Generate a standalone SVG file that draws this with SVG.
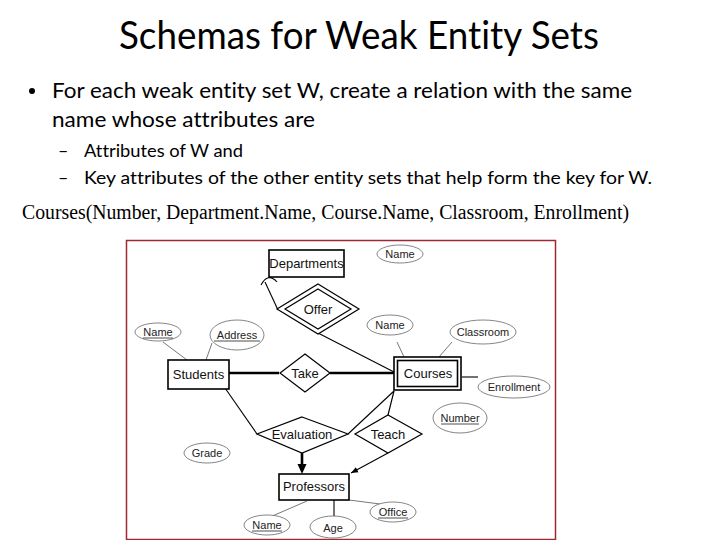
<svg xmlns="http://www.w3.org/2000/svg" width="720" height="540" viewBox="0 0 720 540">
<defs>
<style>
.title{font-family:Lato,"Open Sans",sans-serif;font-size:39px;fill:#000;font-variant-ligatures:none}
.body{font-family:Lato,"Open Sans",sans-serif;font-size:22px;fill:#000;font-variant-ligatures:none}
.sub{font-family:Lato,"Open Sans",sans-serif;font-size:18px;fill:#000;font-variant-ligatures:none}
.serif{font-family:"Liberation Serif",serif;font-size:20px;fill:#000}
.ent{fill:#fff;stroke:#000;stroke-width:1.6}
.rel{fill:#fff;stroke:#000;stroke-width:1.2}
.attr{fill:#fff;stroke:#666;stroke-width:0.8}
.lbl{font-family:"Liberation Sans",Arial,sans-serif;font-size:13px;fill:#111;text-anchor:middle}
.albl{font-family:"Liberation Sans",Arial,sans-serif;font-size:11px;fill:#222;text-anchor:middle}
.thin{stroke:#555;stroke-width:0.8;fill:none}
.med{stroke:#000;stroke-width:1.1;fill:none}
.thick{stroke:#000;stroke-width:2.6;fill:none}
.ul{stroke:#222;stroke-width:0.8}
</style>
<marker id="arr" viewBox="0 0 10 10" refX="10" refY="5" markerWidth="7" markerHeight="7" orient="auto" markerUnits="userSpaceOnUse">
<path d="M0,1 L10,5 L0,9 Z" fill="#000"/>
</marker>
</defs>
<rect width="720" height="540" fill="#fff"/>
<text class="title" x="119" y="49" textLength="480" lengthAdjust="spacingAndGlyphs">Schemas for Weak Entity Sets</text>
<circle cx="32" cy="91" r="3" fill="#000"/>
<text class="body" x="52" y="98" textLength="580" lengthAdjust="spacingAndGlyphs">For each weak entity set W, create a relation with the same</text>
<text class="body" x="52" y="127" textLength="263" lengthAdjust="spacingAndGlyphs">name whose attributes are</text>
<text class="sub" x="58" y="157">–</text>
<text class="sub" x="84" y="157" textLength="159" lengthAdjust="spacingAndGlyphs">Attributes of W and</text>
<text class="sub" x="58" y="184">–</text>
<text class="sub" x="84" y="184" textLength="568" lengthAdjust="spacingAndGlyphs">Key attributes of the other entity sets that help form the key for W.</text>
<text class="serif" x="22" y="219" textLength="607" lengthAdjust="spacingAndGlyphs">Courses(Number, Department.Name, Course.Name, Classroom, Enrollment)</text>
<rect x="126.5" y="240.5" width="429" height="299" fill="#fff" stroke="#a02834" stroke-width="1.5"/>
<g id="connectors">
<path class="med" d="M278,310 L265,282"/>
<path class="med" d="M261,285 Q268,272 277,282"/>
<path class="med" d="M318,333 L394,372"/>
<path class="thin" d="M397,342 L404,357"/>
<path class="thin" d="M452,342 L439,357"/>
<path class="med" d="M462,377 L478,377"/>
<path class="thin" d="M163,342 L187,360"/>
<path class="thin" d="M212,343 L206,360"/>
<path class="thick" d="M229,373 L279,373"/>
<path class="thick" d="M330,373 L394,373"/>
<path class="med" d="M225,388 L257,434"/>
<path class="med" d="M348,434 L394,391"/>
<path class="med" d="M394,391 L388,415"/>
<path class="thick" d="M302,453 L302,467"/>
<path d="M297.5,464 L302,474 L306.5,464 Z" fill="#000"/>
<path class="med" d="M388,453 L351,473" marker-end="url(#arr)"/>
<path class="thin" d="M307,501 L270,517"/>
<path class="med" d="M334,500 L334,517"/>
<path class="thin" d="M349,500 L380,504"/>
</g>
<g id="departments">
<rect class="ent" x="269" y="250" width="75" height="27"/>
<text class="lbl" x="306.5" y="268">Departments</text>
</g>
<g id="dept-name">
<ellipse class="attr" cx="400" cy="254" rx="23" ry="9"/>
<text class="albl" x="400" y="258">Name</text>
</g>
<g id="offer">
<polygon class="rel" points="318,284 359,309 318,334 277,309"/>
<polygon class="rel" points="318,289 351,309 318,329 285,309"/>
<text class="lbl" x="318" y="314">Offer</text>
</g>
<g id="courses">
<rect class="ent" x="394" y="357" width="67" height="33"/>
<rect class="ent" x="397.5" y="360.5" width="60" height="26" stroke-width="1.2"/>
<text class="lbl" x="428" y="378">Courses</text>
</g>
<g id="course-name">
<ellipse class="attr" cx="390" cy="325" rx="23" ry="10"/>
<text class="albl" x="390" y="329">Name</text>
</g>
<g id="classroom">
<ellipse class="attr" cx="483" cy="332" rx="33" ry="12"/>
<text class="albl" x="483" y="336">Classroom</text>
</g>
<g id="enrollment">
<ellipse class="attr" cx="514" cy="387" rx="36" ry="11"/>
<text class="albl" x="514" y="391">Enrollment</text>
</g>
<g id="number">
<ellipse class="attr" cx="460" cy="418" rx="27" ry="15"/>
<text class="albl" x="460" y="422">Number</text>
<line class="ul" x1="441" y1="424" x2="479" y2="424"/>
</g>
<g id="students">
<rect class="ent" x="168" y="360" width="61" height="29"/>
<text class="lbl" x="198.5" y="379">Students</text>
</g>
<g id="student-name">
<ellipse class="attr" cx="158" cy="332" rx="23" ry="9"/>
<text class="albl" x="158" y="336">Name</text>
<line class="ul" x1="143" y1="338" x2="173" y2="338"/>
</g>
<g id="address">
<ellipse class="attr" cx="237" cy="335" rx="27" ry="15"/>
<text class="albl" x="237" y="339">Address</text>
<line class="ul" x1="214" y1="341" x2="260" y2="341"/>
</g>
<g id="take">
<polygon class="rel" points="305,354 330,373 305,392 280,373"/>
<text class="lbl" x="305" y="378">Take</text>
</g>
<g id="evaluation">
<polygon class="rel" points="302,417 348,434 302,453 257,434"/>
<text class="lbl" x="302" y="439">Evaluation</text>
</g>
<g id="teach">
<polygon class="rel" points="388,415 422,434 388,453 355,434"/>
<text class="lbl" x="388" y="439">Teach</text>
</g>
<g id="grade">
<ellipse class="attr" cx="207" cy="453" rx="23" ry="10"/>
<text class="albl" x="207" y="457">Grade</text>
</g>
<g id="professors">
<rect class="ent" x="279" y="474" width="70" height="26"/>
<text class="lbl" x="314" y="491">Professors</text>
</g>
<g id="prof-name">
<ellipse class="attr" cx="267" cy="525" rx="23" ry="10"/>
<text class="albl" x="267" y="529">Name</text>
<line class="ul" x1="252" y1="531" x2="282" y2="531"/>
</g>
<g id="age">
<ellipse class="attr" cx="333" cy="527" rx="23" ry="11"/>
<text class="albl" x="333" y="532">Age</text>
</g>
<g id="office">
<ellipse class="attr" cx="393" cy="512" rx="23" ry="10"/>
<text class="albl" x="393" y="516">Office</text>
<line class="ul" x1="378" y1="518" x2="408" y2="518"/>
</g>
</svg>
